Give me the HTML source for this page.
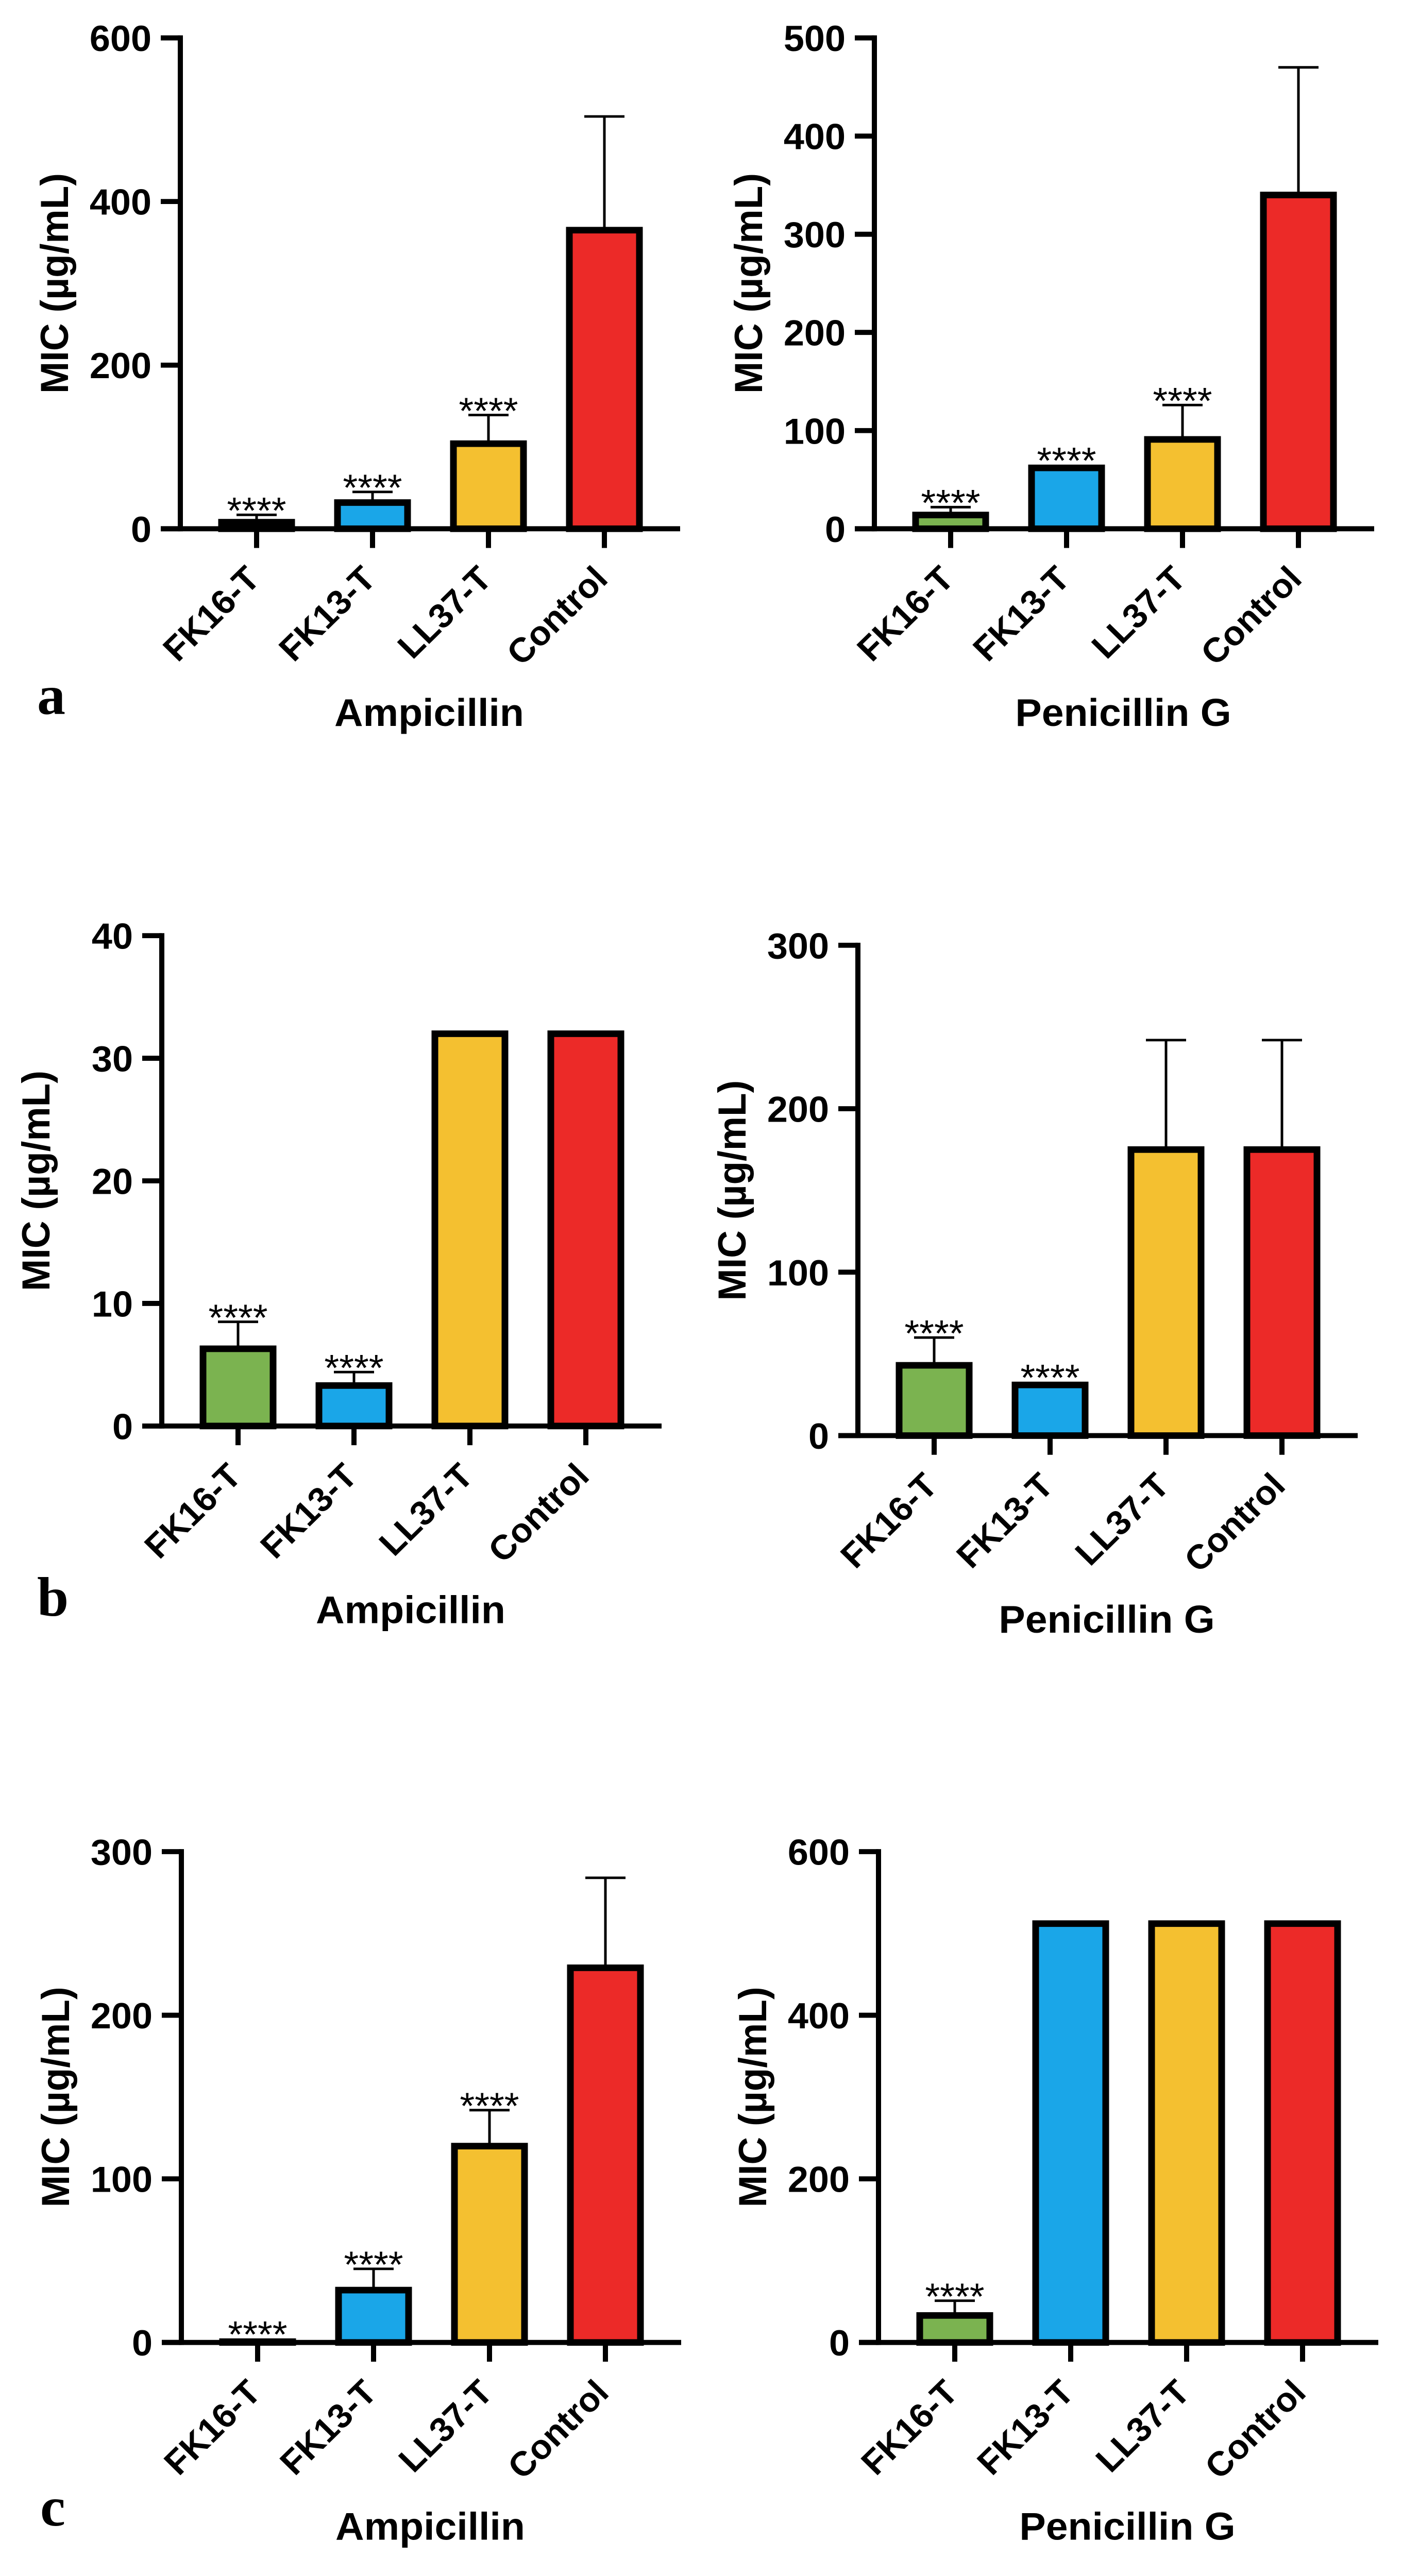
<!DOCTYPE html>
<html><head><meta charset="utf-8">
<style>
html,body{margin:0;padding:0;background:#fff;width:100%;height:100%;overflow:hidden;}
svg{display:block;position:fixed;left:0;top:0;width:100vw;height:100vh;}
text{font-family:"Liberation Sans",Arial,sans-serif;fill:#000;}
</style></head>
<body>
<svg id="fig" viewBox="0 0 2721 5096" preserveAspectRatio="none" xmlns="http://www.w3.org/2000/svg">
<rect x="0" y="0" width="2721" height="5096" fill="#fff"/>
</svg>
<script>
// shared data
const categories = ["FK16-T", "FK13-T", "LL37-T", "Control"];
const barColors = ["#7bb350", "#1aa6e8", "#f4c030", "#ec2a28"];

// panel a - Ampicillin
const aAmpValues = [8, 32, 104, 365];
const aAmpErrors = [17, 45, 139, 504];
const aAmpStars = [true, true, true, false];
const aAmpTicks = [0, 200, 400, 600];
// panel a - Penicillin G
const aPenValues = [14, 62, 91, 340];
const aPenErrors = [22, null, 126, 470];
const aPenStars = [true, true, true, false];
const aPenTicks = [0, 100, 200, 300, 400, 500];
// panel b - Ampicillin
const bAmpValues = [6.3, 3.3, 32, 32];
const bAmpErrors = [8.5, 4.4, null, null];
const bAmpStars = [true, true, false, false];
const bAmpTicks = [0, 10, 20, 30, 40];
// panel b - Penicillin G
const bPenValues = [43, 31, 175, 175];
const bPenErrors = [60, null, 242, 242];
const bPenStars = [true, true, false, false];
const bPenTicks = [0, 100, 200, 300];
// panel c - Ampicillin
const cAmpValues = [0.5, 32, 120, 229];
const cAmpErrors = [null, 45, 142, 284];
const cAmpStars = [true, true, true, false];
const cAmpTicks = [0, 100, 200, 300];
// panel c - Penicillin G
const cPenValues = [33, 512, 512, 512];
const cPenErrors = [51, null, null, null];
const cPenStars = [true, false, false, false];
const cPenTicks = [0, 200, 400, 600];

const NS = "http://www.w3.org/2000/svg";
const svg = document.getElementById("fig");
function mk(tag, attrs, parent) {
  const e = document.createElementNS(NS, tag);
  for (const k in attrs) e.setAttribute(k, attrs[k]);
  (parent || svg).appendChild(e);
  return e;
}

function drawPanel(id, geo, values, errors, stars, ticks, title) {
  const g = mk("g", {});
  
  
  const yMax = ticks[ticks.length - 1];
  const yScale = v => geo.zeroY - (v / yMax) * (geo.zeroY - geo.topY);
  const xScale = i => geo.axisX + 148 + i * 225;
  const tickLen = 38;

  values.forEach((v, i) => {
    const cx = xScale(i);
    const yv = yScale(v);
    const r = mk("rect", {x: cx - 68, y: Math.min(yv, geo.zeroY), width: 136, height: Math.max(Math.abs(geo.zeroY - yv), 0.01),
      fill: barColors[i], stroke: "#000", "stroke-width": 13}, g);
    
    
    const e = errors[i];
    let topY = yv - 6;
    if (e !== null && e !== undefined) {
      const ye = yScale(e);
      const eg = mk("g", {}, g);
      
      
      mk("line", {x1: cx, x2: cx, y1: yv, y2: ye, stroke: "#000", "stroke-width": 5}, eg);
      mk("line", {x1: cx - 39, x2: cx + 39, y1: ye, y2: ye, stroke: "#000", "stroke-width": 5}, eg);
      topY = ye;
    }
    if (stars[i]) {
      const t = mk("text", {x: cx, y: topY + 17, "text-anchor": "middle", "font-size": 74}, g);
      t.textContent = "****";
      
      
    }
  });

  const ya = mk("g", {}, g);
  
  
  mk("line", {x1: geo.axisX, x2: geo.axisX, y1: geo.topY - 5, y2: geo.zeroY + 5, stroke: "#000", "stroke-width": 10}, ya);
  ticks.forEach(t => {
    const y = yScale(t);
    mk("line", {x1: geo.axisX - tickLen, x2: geo.axisX, y1: y, y2: y, stroke: "#000", "stroke-width": 10}, ya);
    const tl = mk("text", {x: geo.axisX - 56, y: y + 26, "text-anchor": "end", "font-size": 72, "font-weight": "bold"}, ya);
    tl.textContent = t;
    
    
  });
  const yt = mk("text", {transform: `translate(${geo.axisX - 218},${(geo.topY + geo.zeroY) / 2}) rotate(-90)`,
    "text-anchor": "middle", "font-size": 76, "font-weight": "bold"}, ya);
  yt.textContent = "MIC (µg/mL)";
  
  

  const xa = mk("g", {}, g);
  
  
  mk("line", {x1: geo.axisX - tickLen, x2: geo.axisX + 970, y1: geo.zeroY, y2: geo.zeroY, stroke: "#000", "stroke-width": 10}, xa);
  categories.forEach((c, i) => {
    const cx = xScale(i);
    mk("line", {x1: cx, x2: cx, y1: geo.zeroY, y2: geo.zeroY + tickLen, stroke: "#000", "stroke-width": 10}, xa);
    const cl = mk("text", {transform: `translate(${cx + 10},${geo.zeroY + 103}) rotate(-45)`,
      "text-anchor": "end", "font-size": 68, "font-weight": "bold"}, xa);
    cl.textContent = c;
    
    
  });
  const xt = mk("text", {x: geo.axisX + 483, y: geo.zeroY + 390, "text-anchor": "middle", "font-size": 77, "font-weight": "bold"}, xa);
  xt.textContent = title;
  
  
}

drawPanel("a-ampicillin", {axisX: 350, topY: 75, zeroY: 1046}, aAmpValues, aAmpErrors, aAmpStars, aAmpTicks, "Ampicillin");
drawPanel("a-penicillin", {axisX: 1697, topY: 75, zeroY: 1046}, aPenValues, aPenErrors, aPenStars, aPenTicks, "Penicillin G");
drawPanel("b-ampicillin", {axisX: 314, topY: 1851, zeroY: 2821}, bAmpValues, bAmpErrors, bAmpStars, bAmpTicks, "Ampicillin");
drawPanel("b-penicillin", {axisX: 1665, topY: 1870, zeroY: 2840}, bPenValues, bPenErrors, bPenStars, bPenTicks, "Penicillin G");
drawPanel("c-ampicillin", {axisX: 352, topY: 3663, zeroY: 4634}, cAmpValues, cAmpErrors, cAmpStars, cAmpTicks, "Ampicillin");
drawPanel("c-penicillin", {axisX: 1705, topY: 3663, zeroY: 4634}, cPenValues, cPenErrors, cPenStars, cPenTicks, "Penicillin G");

[["a", 72, 1412], ["b", 72, 3196], ["c", 78, 4996]].forEach(([l, x, y]) => {
  const t = mk("text", {x: x, y: y, "font-size": 110, "font-weight": "bold", style: 'font-family:"Liberation Serif",serif'});
  t.textContent = l;
  
  
});
</script>
</body></html>
